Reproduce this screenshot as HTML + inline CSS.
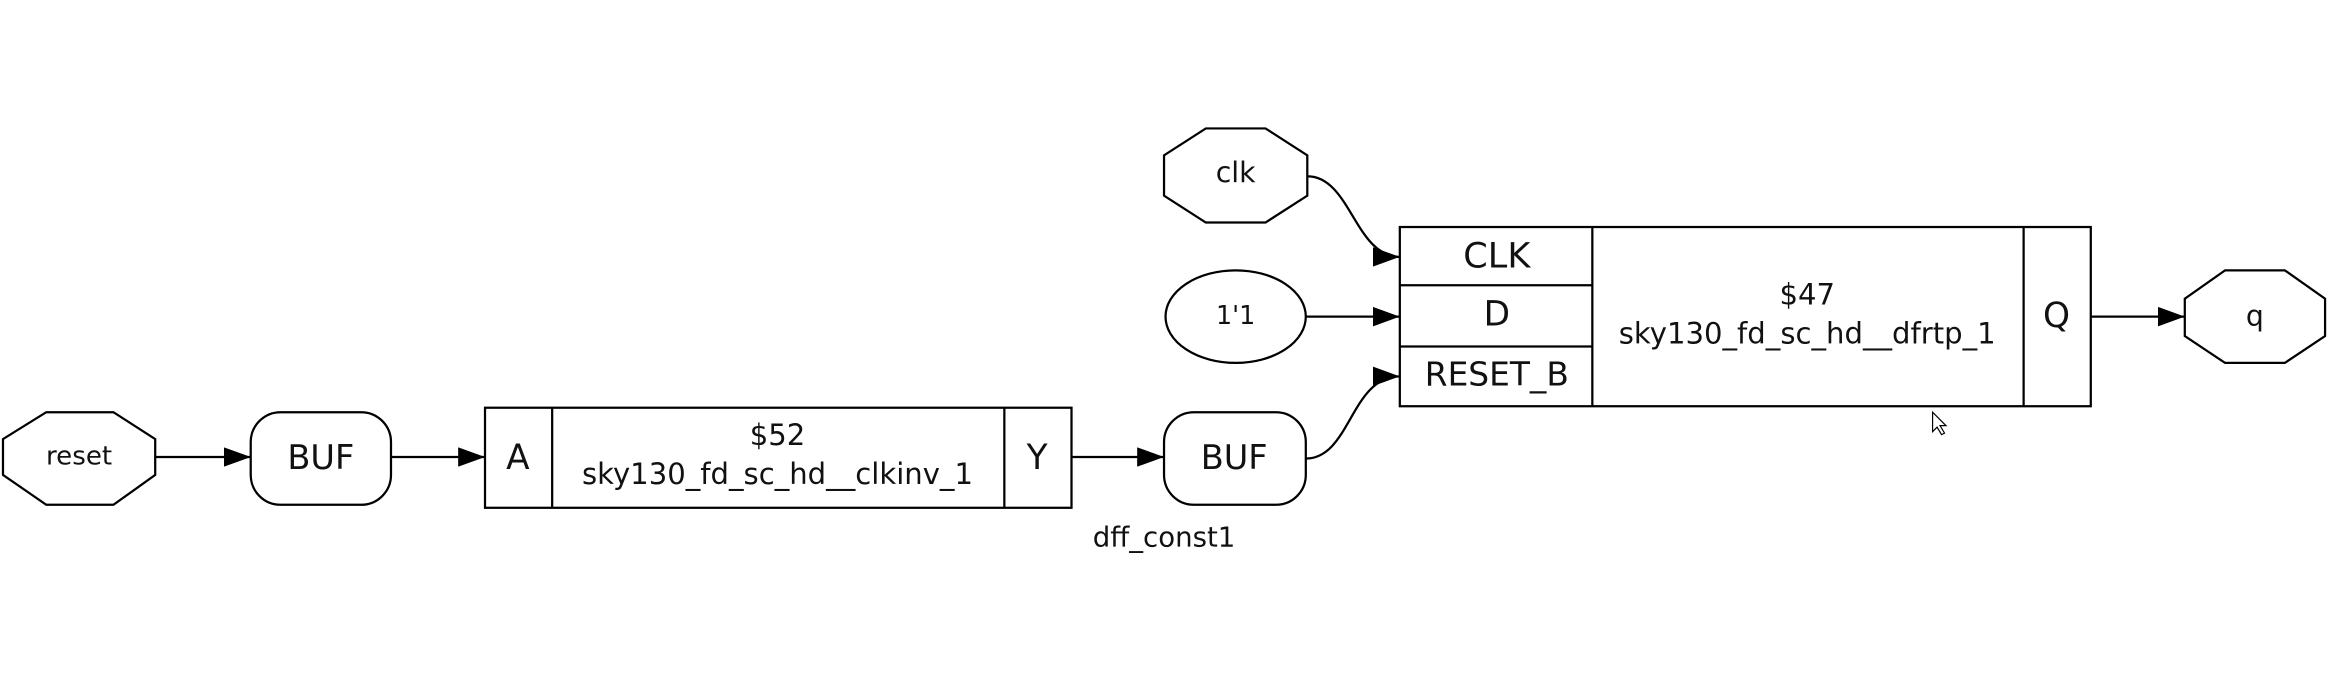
<!DOCTYPE html>
<html><head><style>
html,body{margin:0;padding:0;background:#fff;}
svg{display:block;}
text{font-family:"DejaVu Sans","Liberation Sans",sans-serif;fill:#111;}
</style></head><body>
<svg width="2340" height="690" viewBox="0 0 1568 462" preserveAspectRatio="none" xmlns="http://www.w3.org/2000/svg">
<defs>
<marker id="b" markerWidth="18" markerHeight="13" refX="18" refY="6.5" orient="auto" markerUnits="userSpaceOnUse"><path d="M0,0 L18,6.5 L0,13 z" fill="#000"/></marker></defs>
<g fill="none" stroke="#000" stroke-width="1.5">
<polygon points="31,276 76,276 104,294 104,318 76,338 31,338 2,318 2,294"/>
<rect x="168" y="276" width="94" height="62" rx="20"/>
<rect x="325" y="273" width="393" height="67"/>
<line x1="370" y1="273" x2="370" y2="340"/><line x1="673" y1="273" x2="673" y2="340"/>
<rect x="780" y="276" width="95" height="62" rx="20"/>
<polygon points="808,86 848,86 876,104 876,131 848,149 808,149 780,131 780,104"/>
<ellipse cx="828" cy="212" rx="47" ry="31"/>
<polygon points="1491,181 1531,181 1558,200 1558,225 1531,243 1491,243 1464,225 1464,200"/>
<rect x="938" y="152" width="463" height="120"/>
<line x1="1067" y1="152" x2="1067" y2="272"/><line x1="1356" y1="152" x2="1356" y2="272"/>
<line x1="938" y1="191" x2="1067" y2="191"/><line x1="938" y1="232" x2="1067" y2="232"/>
<path d="M104,306 L168,306" marker-end="url(#b)"/>
<path d="M262,306 L325,306" marker-end="url(#b)"/>
<path d="M718,306 L780,306" marker-end="url(#b)"/>
<path d="M876,118 C905,118 908,172 938,172" marker-end="url(#b)"/>
<path d="M875,212 L938,212" marker-end="url(#b)"/>
<path d="M875,307 C905,307 905,252 938,252" marker-end="url(#b)"/>
<path d="M1401,212 L1464,212" marker-end="url(#b)"/>
<path d="M1295,276 L1295,289 L1298,286 L1301,291 L1303,290 L1300,285 L1304,285 z" stroke-width="0.8" fill="#fff"/>
</g>
<g text-anchor="middle">
<text x="53" y="311" font-size="17.5">reset</text>
<text x="215" y="314" font-size="22.5">BUF</text>
<text x="347" y="314" font-size="23">A</text>
<text x="521" y="298" font-size="19.5">$52</text>
<text x="521" y="324" font-size="19.5">sky130_fd_sc_hd__clkinv_1</text>
<text x="695" y="314" font-size="23">Y</text>
<text x="827" y="314" font-size="22.5">BUF</text>
<text x="780" y="366" font-size="18.5">dff_const1</text>
<text x="828" y="122" font-size="19">clk</text>
<text x="828" y="217" font-size="17">1'1</text>
<text x="1511" y="218" font-size="19">q</text>
<text x="1003" y="179" font-size="23.5">CLK</text>
<text x="1003" y="218" font-size="23">D</text>
<text x="1003" y="258" font-size="22">RESET_B</text>
<text x="1211" y="204" font-size="19.5">$47</text>
<text x="1211" y="230" font-size="19.5">sky130_fd_sc_hd__dfrtp_1</text>
<text x="1378" y="219" font-size="23">Q</text>
</g>
</svg>
</body></html>
